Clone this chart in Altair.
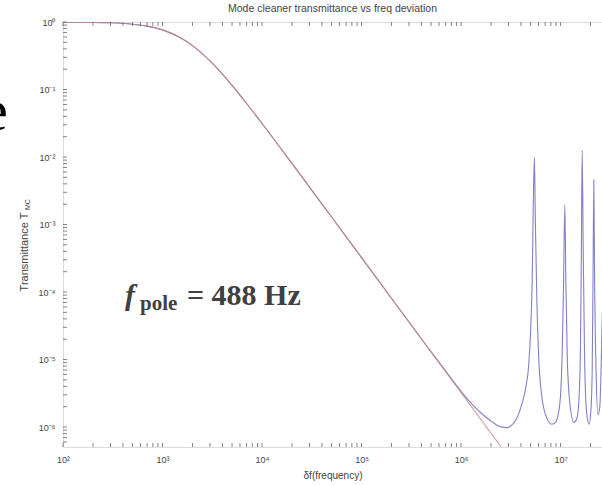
import altair as alt
import pandas as pd

# ---- data ----
red_f = [1e2, 2e2, 3e2, 5e2, 7e2, 1e3, 1.5e3, 2e3, 3e3, 5e3, 7e3, 1e4, 2e4, 5e4,
         1e5, 1e6, 3e6]
red_T = [0.9969, 0.9878, 0.973, 0.928, 0.869, 0.764, 0.590, 0.447, 0.265, 0.115,
         0.0620, 0.0314, 0.00803, 0.001294, 3.24e-4, 3.24e-6, 3.6e-7]

blue_f = [1e2, 2e2, 3e2, 5e2, 7e2, 1e3, 1.5e3, 2e3, 3e3, 5e3, 7e3, 1e4, 2e4, 5e4,
          1e5, 5e5, 8e5, 1.05e6,
          1.3e6, 1.6e6, 1.95e6, 2.45e6, 2.88e6, 3.31e6, 3.72e6, 4.07e6, 4.47e6,
          4.79e6, 5.01e6, 5.19e6, 5.33e6, 5.46e6, 5.58e6, 5.78e6, 6.05e6, 6.46e6,
          7.08e6, 8.13e6, 8.91e6, 9.55e6, 1.0e7, 1.035e7, 1.07e7, 1.104e7, 1.13e7,
          1.17e7, 1.245e7, 1.365e7, 1.46e7, 1.53e7, 1.585e7, 1.62e7, 1.65e7,
          1.69e7, 1.74e7, 1.82e7, 1.93e7, 2.02e7, 2.08e7, 2.12e7, 2.16e7, 2.20e7,
          2.275e7, 2.38e7, 2.48e7, 2.57e7, 2.63e7]
blue_T = [0.9969, 0.9878, 0.973, 0.928, 0.869, 0.764, 0.590, 0.447, 0.265, 0.115,
          0.0620, 0.0314, 0.00803, 0.001294, 3.24e-4, 1.3e-5, 5.2e-6, 3.1e-6,
          2.15e-6, 1.6e-6, 1.26e-6, 1.02e-6, 9.8e-7, 1.1e-6, 1.45e-6, 2.14e-6, 3.8e-6,
          8.3e-6, 2.75e-5, 1.5e-4, 2.3e-3, 9.8e-3, 1.17e-3, 7.6e-5, 9.8e-6, 2.95e-6,
          1.51e-6, 1.1e-6, 1.17e-6, 1.66e-6, 2.95e-6, 9.8e-6, 1.07e-4, 1.95e-3, 1.5e-4,
          9.8e-6, 2.14e-6, 1.17e-6, 1.35e-6, 2.5e-6, 1.38e-5, 4.2e-4, 1.26e-2,
          4.2e-4, 1.38e-5, 1.78e-6, 1.1e-6, 1.78e-6, 6.9e-6, 1.5e-4, 4.6e-3, 1.5e-4,
          6.9e-6, 1.51e-6, 2.0e-6, 1.0e-5, 5.0e-5]

x_decades = [1e2, 1e3, 1e4, 1e5, 1e6, 1e7]
y_decades = [1e-6, 1e-5, 1e-4, 1e-3, 1e-2, 1e-1, 1e0]

title_text = "Mode cleaner transmittance vs freq deviation"
x_title = "δf(frequency)"
y_title = "Transmittance T"
y_title_sub = "MC"

W, H = 539, 425
X_DOMAIN = [1e2, 2.61e7]
Y_DOMAIN = [5.06e-7, 1.0]

xscale = alt.Scale(type="log", domain=X_DOMAIN, nice=False)
yscale = alt.Scale(type="log", domain=Y_DOMAIN, nice=False)

x_ticks = [k * 10 ** n for n in range(2, 8) for k in range(1, 10)
           if k * 10 ** n <= X_DOMAIN[1]]
y_ticks = [k * 10.0 ** n for n in range(-7, 1) for k in range(1, 10)
           if Y_DOMAIN[0] <= k * 10.0 ** n <= 1.0]

sup = "['⁰','¹','²','³','⁴','⁵','⁶','⁷','⁸','⁹']"
lab_expr = ("'10' + (round(log(datum.value)/LN10) < 0 ? '⁻' : '') + "
            + sup + "[abs(round(log(datum.value)/LN10))]")

red_df = pd.DataFrame({"f": red_f, "T": red_T})
blue_df = pd.DataFrame({"f": blue_f, "T": blue_T})

AX = "#666666"
LBL = "#444444"
FONT = "Liberation Sans"

blue = alt.Chart(blue_df).mark_line(color="#8080cc", strokeWidth=1.1, clip=True,
                                    interpolate="monotone").encode(
    x=alt.X("f:Q", scale=xscale,
            axis=alt.Axis(values=x_decades, labelExpr=lab_expr, ticks=False, domain=False,
                          grid=False, labelFontSize=9, labelColor=LBL, labelPadding=8,
                          labelOverlap=False, labelFlush=False, title=x_title,
                          titleFontSize=10, titleFontWeight="normal", titleColor=LBL,
                          titlePadding=6, labelFont=FONT, titleFont=FONT)),
    y=alt.Y("T:Q", scale=yscale,
            axis=alt.Axis(values=y_decades, labelExpr=lab_expr, ticks=False, domain=False,
                          grid=False, labelFontSize=9, labelColor=LBL, labelPadding=8,
                          labelOverlap=False, labelFlush=False, title=None,
                          labelFont=FONT)),
)

red = alt.Chart(red_df).mark_line(color="#cc8080", strokeWidth=1.1, opacity=0.75,
                                  clip=True, interpolate="monotone").encode(
    x=alt.X("f:Q", scale=xscale),
    y=alt.Y("T:Q", scale=yscale),
)

xt_df = pd.DataFrame({"tick": x_ticks})
yt_df = pd.DataFrame({"tick": y_ticks})

bottom_ticks = alt.Chart(xt_df).mark_rule(color=AX, strokeWidth=0.8).encode(
    x=alt.X("tick:Q", scale=xscale), y=alt.value(H), y2=alt.value(H - 4))
top_ticks = alt.Chart(xt_df).mark_rule(color=AX, strokeWidth=0.8).encode(
    x=alt.X("tick:Q", scale=xscale), y=alt.value(0), y2=alt.value(4))
left_ticks = alt.Chart(yt_df).mark_rule(color=AX, strokeWidth=0.8).encode(
    y=alt.Y("tick:Q", scale=yscale), x=alt.value(0), x2=alt.value(4))

one = alt.Data(values=[{}])


def txt(text, x, y, **kw):
    return alt.Chart(one).mark_text(**kw).encode(
        x=alt.value(x), y=alt.value(y), text=alt.value(text))


ytitle = txt(y_title, -38, 230, angle=270, fontSize=11, color=LBL,
             font=FONT, align="center", baseline="middle")
ytitle_sub = txt(y_title_sub, -35, 188, angle=270, fontSize=7, color=LBL,
                 font=FONT, align="left", baseline="middle")

ann_f = txt("f", 62, 283, fontSize=30, font="Liberation Serif", fontStyle="italic",
            fontWeight="bold", color="#404040", align="left", baseline="alphabetic")
ann_pole = txt("pole", 77, 288, fontSize=21, font="Liberation Serif",
               fontWeight="bold", color="#404040", align="left", baseline="alphabetic")
ann_rest = txt("= 488 Hz", 124, 283, fontSize=30, font="Liberation Serif",
               fontWeight="bold", color="#404040", align="left", baseline="alphabetic")

big_e = txt("e", -55, 108, fontSize=60, font="Liberation Serif", color="#000000",
            align="right", baseline="alphabetic")

chart = alt.layer(
    blue, red, bottom_ticks, top_ticks, left_ticks,
    ytitle, ytitle_sub, ann_f, ann_pole, ann_rest, big_e,
).properties(
    width=W, height=H,
    title=alt.TitleParams(title_text, fontSize=10.5, fontWeight="normal", color=LBL,
                          font=FONT, anchor="middle", offset=4),
    autosize=alt.AutoSizeParams(type="none"),
    padding={"left": 63, "top": 22, "right": 0, "bottom": 38},
).configure_view(stroke="#888888", strokeWidth=1).configure(background="white")

chart.save("out.html", embed_options={"renderer": "svg", "actions": False})
